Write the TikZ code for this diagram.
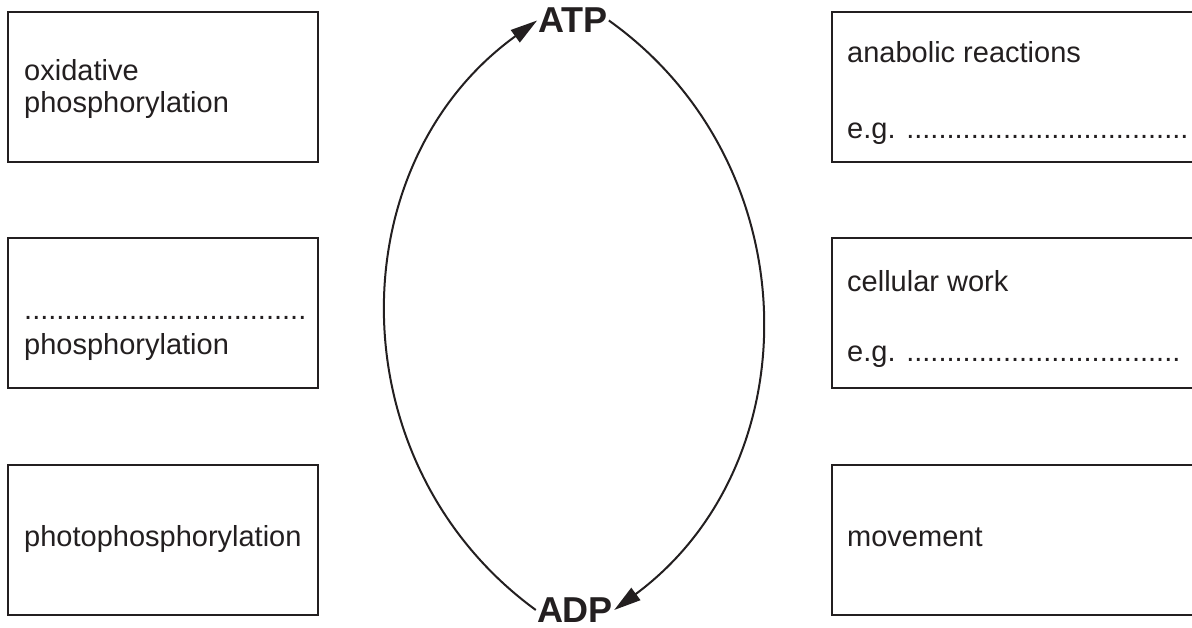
\documentclass[tikz,border=0pt]{standalone}
\usepackage{fontspec}
\setmainfont{Liberation Sans}
\usetikzlibrary{arrows.meta}
\definecolor{ink}{HTML}{231F20}
\begin{document}
\begin{tikzpicture}[x=1pt,y=1pt,
  box/.style={draw=ink,line width=1.4pt},
  lbl/.style={anchor=base west,inner sep=0pt,text=ink,font=\fontsize{29}{34}\selectfont},
  big/.style={inner sep=1pt,text=ink,font=\fontsize{36}{40}\selectfont\bfseries},
  cyc/.style={draw=ink,line width=2pt,-{Triangle[length=27pt,width=15pt]}}]
\clip (0,0) rectangle (1192,628);
\fill[white] (0,0) rectangle (1192,628);
% left boxes
\draw[box] (8,466) rectangle (318,616);
\draw[box] (8,240) rectangle (318,390);
\draw[box] (8,13) rectangle (318,163);
% right boxes (cut at the right edge)
\draw[box] (832,466) rectangle (1210,616);
\draw[box] (832,240) rectangle (1210,390);
\draw[box] (832,13) rectangle (1210,163);
% left texts
\node[lbl] (l1a) at (24,547) {oxidative};
\node[lbl] (l1b) at (24,515) {phosphorylation};
\node[lbl] (l2a) at (24,308) {...................................};
\node[lbl] (l2b) at (24,273) {phosphorylation};
\node[lbl] (l3a) at (24,81) {photophosphorylation};
% right texts
\node[lbl] (r1a) at (847,565) {anabolic reactions};
\node[lbl] (r1b) at (847,489) {e.g. ...................................};
\node[lbl] (r2a) at (847,336) {cellular work};
\node[lbl] (r2b) at (847,266) {e.g. ..................................};
\node[lbl] (r3a) at (847,81) {movement};
% cycle
\node[big] (ATP) at (573,607.5) {ATP};
\node[big] (ADP) at (575,18) {ADP};
\draw[cyc] (ADP.west) to[bend left=54,looseness=1.07] (ATP.west);
\draw[cyc] (ATP.east) to[bend left=54,looseness=1.07] (ADP.east);
\end{tikzpicture}
\end{document}
